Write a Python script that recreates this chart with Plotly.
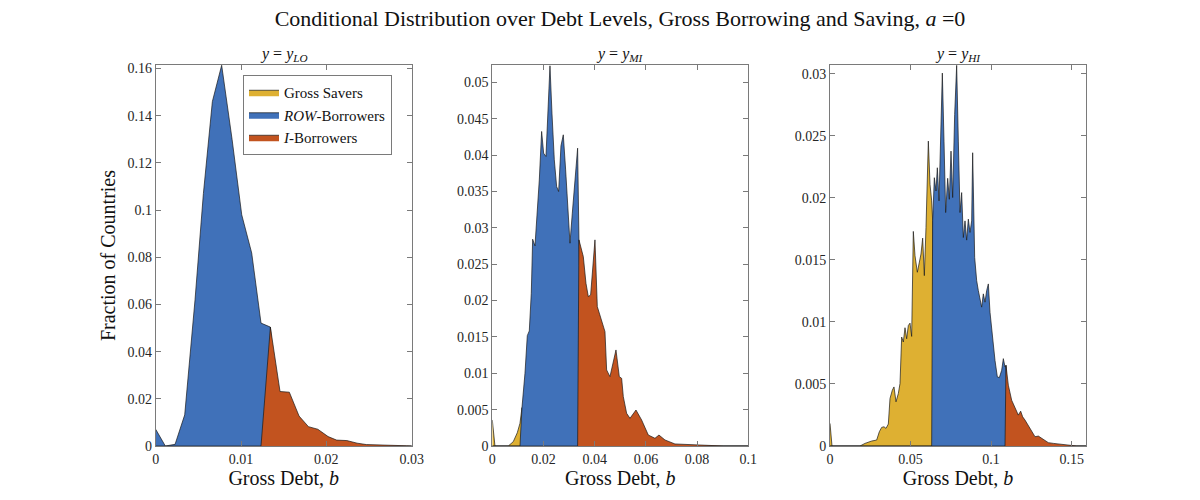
import plotly.graph_objects as go

# ---------------- data ----------------
# y = y_LO panel
b_lo = [0.0, 0.00113, 0.00227, 0.0034, 0.00461, 0.00559, 0.00664, 0.00773,
        0.00895, 0.01008, 0.01125, 0.01234, 0.01344, 0.01457, 0.01566, 0.0168,
        0.0179, 0.0190, 0.0202, 0.0212, 0.0224, 0.0236, 0.0247, 0.0259,
        0.0271, 0.0282, 0.0294, 0.0306]
d_lo = [0.0071, 0.0, 0.0007, 0.0132, 0.062, 0.107, 0.146, 0.1614,
        0.130, 0.098, 0.0818, 0.0521, 0.0504, 0.0231, 0.0228, 0.0127,
        0.0082, 0.0071, 0.0040, 0.0025, 0.0023, 0.0012, 0.0006, 0.0004,
        0.0004, 0.0003, 0.0001, 0.0]
save_cut_lo = None        # no gross savers
iborr_cut_lo = 0.01344    # first b of I-borrowers

# y = y_MI panel
b_mi = [0.0, 0.00104, 0.00625, 0.0082, 0.00977, 0.01081, 0.01159, 0.01276,
        0.01367, 0.01445, 0.01523, 0.01576, 0.01667, 0.01758, 0.01836, 0.01927,
        0.02005, 0.02096, 0.02174, 0.02253, 0.02331, 0.02422, 0.02513, 0.02591,
        0.02682, 0.02773, 0.02865, 0.02956, 0.03034, 0.03125, 0.03216, 0.03333,
        0.03385, 0.03555, 0.03659, 0.0375, 0.03841, 0.03919, 0.0401, 0.04102,
        0.04271, 0.04401, 0.04466, 0.04596, 0.04831, 0.04961, 0.05052, 0.05117,
        0.05247, 0.05378, 0.05612, 0.05833, 0.06094, 0.06354, 0.0651, 0.06745,
        0.07135, 0.07591, 0.08047, 0.08503, 0.09023, 0.1]
d_mi = [0.00358, 0.0, 0.0, 0.0006, 0.00183, 0.00312, 0.00528, 0.0100,
        0.01518, 0.01583, 0.02101, 0.02844, 0.02752, 0.03248, 0.0366, 0.04326,
        0.04027, 0.03982, 0.04578, 0.05229, 0.04578, 0.03936, 0.03569, 0.0350,
        0.04128, 0.0428, 0.03798, 0.03293, 0.02789, 0.03202, 0.03615, 0.04096,
        0.02835, 0.02605, 0.02238, 0.02055, 0.02078, 0.02376, 0.02835, 0.01917,
        0.01734, 0.01573, 0.01046, 0.00954, 0.01321, 0.00954, 0.00931, 0.00679,
        0.0045, 0.00381, 0.00495, 0.00358, 0.00151, 0.00106, 0.00151, 0.00083,
        0.00028, 0.00023, 0.00014, 0.00005, 0.0, 0.0]
save_cut_mi = 0.01159
iborr_cut_mi = 0.03385

# y = y_HI panel
b_hi = [0.0, 0.00124, 0.01862, 0.02172, 0.02586, 0.02897, 0.03062, 0.03207,
        0.03352, 0.03476, 0.03621, 0.03724, 0.03869, 0.03972, 0.04097, 0.04241,
        0.04345, 0.04448, 0.04552, 0.04655, 0.04759, 0.04862, 0.04966, 0.05069,
        0.05172, 0.05276, 0.05421, 0.05545, 0.05648, 0.05752, 0.05855, 0.05959,
        0.06104, 0.06207, 0.0631, 0.06373,
        0.06476, 0.0658, 0.06662, 0.06766, 0.06869, 0.06973, 0.07076, 0.07179,
        0.07304, 0.07407, 0.07511, 0.07614, 0.07738, 0.07862, 0.07966, 0.08069,
        0.08173, 0.08276, 0.0838, 0.08483, 0.08586, 0.0869, 0.08793, 0.08855,
        0.0898, 0.09104, 0.09207, 0.0931, 0.09414, 0.09517, 0.09621, 0.09724,
        0.09828, 0.09931, 0.10097, 0.10241, 0.10386, 0.10511, 0.10655, 0.10759,
        0.10862, 0.10924,
        0.11069, 0.11276, 0.11483, 0.1169, 0.11835, 0.11959, 0.12104, 0.12311,
        0.12518, 0.12725, 0.12932, 0.13138, 0.13345, 0.13552, 0.13862, 0.14173,
        0.14483, 0.14897, 0.15311, 0.1589]
d_hi = [0.00182, 0.0, 0.0, 0.00021, 0.0004, 0.00048, 0.00115, 0.0015,
        0.00155, 0.00142, 0.00177, 0.00383, 0.0045, 0.00476, 0.00356, 0.00423,
        0.00503, 0.00878, 0.00838, 0.00953, 0.00864, 0.00971, 0.0099, 0.00883,
        0.01729, 0.01533, 0.0140, 0.01493, 0.01547, 0.01675, 0.01373, 0.01761,
        0.02457, 0.02109, 0.01975, 0.01814,
        0.02162, 0.02055, 0.02242, 0.01975, 0.02457, 0.03005, 0.02457, 0.01881,
        0.02157, 0.01988, 0.02376, 0.02002, 0.02671, 0.03067, 0.02457, 0.01881,
        0.02042, 0.0168, 0.01814, 0.01659, 0.01828, 0.01721, 0.01814, 0.02363,
        0.0152, 0.01333, 0.01252, 0.01172, 0.01119, 0.01226, 0.01159, 0.01252,
        0.01306, 0.01078, 0.00851, 0.0069, 0.00557, 0.00551, 0.0061, 0.00704,
        0.00637, 0.0065,
        0.0049, 0.00369, 0.00302, 0.00249, 0.00281, 0.00235, 0.00209, 0.00161,
        0.00115, 0.00075, 0.0008, 0.00062, 0.00048, 0.00027, 0.00021, 0.00016,
        0.00008, 0.00005, 0.0, 0.0]
save_cut_hi = 0.06373
iborr_cut_hi = 0.10924

panel_titles = ["<i>y</i> = <i>y<sub>LO</sub></i>",
                "<i>y</i> = <i>y<sub>MI</sub></i>",
                "<i>y</i> = <i>y<sub>HI</sub></i>"]
group_names = ["Gross Savers", "<i>ROW</i>-Borrowers", "<i>I</i>-Borrowers"]

x_ranges = [[0, 0.03], [0, 0.1], [0, 0.1589]]
y_ranges = [[0, 0.1615], [0, 0.0524], [0, 0.0307]]
x_tickvals = [[0, 0.01, 0.02, 0.03], [0, 0.02, 0.04, 0.06, 0.08, 0.1], [0, 0.05, 0.1, 0.15]]
x_ticktext = [["0", "0.01", "0.02", "0.03"], ["0", "0.02", "0.04", "0.06", "0.08", "0.1"],
              ["0", "0.05", "0.1", "0.15"]]
y_tickvals = [[0, 0.02, 0.04, 0.06, 0.08, 0.1, 0.12, 0.14, 0.16],
              [0, 0.005, 0.01, 0.015, 0.02, 0.025, 0.03, 0.035, 0.04, 0.045, 0.05],
              [0, 0.005, 0.01, 0.015, 0.02, 0.025, 0.03]]
y_ticktext = [["0", "0.02", "0.04", "0.06", "0.08", "0.1", "0.12", "0.14", "0.16"],
              ["0", "0.005", "0.01", "0.015", "0.02", "0.025", "0.03", "0.035", "0.04", "0.045", "0.05"],
              ["0", "0.005", "0.01", "0.015", "0.02", "0.025", "0.03"]]

# ---------------- styling / layout ----------------
COLORS = ["#DEB032", "#4071B9", "#C2531F"]
FONT = "Liberation Serif"
AX_COLOR = "#7a7a7a"
TXT = "#262626"

W, H = 1200, 500
ML, MR, MT, MB = 40, 40, 40, 40
PW, PH = W - ML - MR, H - MT - MB


def fx(px):   # pixel x -> paper fraction
    return (px - ML) / PW


def fy(py):   # pixel y (from top) -> paper fraction
    return (H - MB - py) / PH


panel_px = [(155.7, 411.7), (492.3, 748.3), (830.0, 1086.0)]
x_domains = [[fx(a), fx(b)] for a, b in panel_px]
y_domain = [fy(446.0), fy(65.0)]

panels = [(b_lo, d_lo, save_cut_lo, iborr_cut_lo),
          (b_mi, d_mi, save_cut_mi, iborr_cut_mi),
          (b_hi, d_hi, save_cut_hi, iborr_cut_hi)]

fig = go.Figure()
legend_done = set()

for p, (b, d, s_cut, i_cut) in enumerate(panels):
    xa = "x" if p == 0 else f"x{p+1}"
    ya = "y" if p == 0 else f"y{p+1}"
    lo_blue = s_cut if s_cut is not None else -1.0
    masks = [[(s_cut is not None and x <= s_cut) for x in b],
             [(lo_blue <= x <= i_cut) for x in b],
             [(x >= i_cut) for x in b]]
    for g in range(3):
        if not any(masks[g]):
            continue
        yy = [v if m else 0.0 for v, m in zip(d, masks[g])]
        show = g not in legend_done
        legend_done.add(g)
        fig.add_trace(go.Scatter(
            x=b, y=yy, mode="lines", fill="tozeroy",
            fillcolor=COLORS[g], line=dict(color="#1a1a1a", width=0.7),
            name=group_names[g], legendgroup=f"g{g}", legendrank=g + 1,
            showlegend=show, xaxis=xa, yaxis=ya, hoverinfo="x+y+name"))

layout = dict(
    width=W, height=H,
    margin=dict(l=ML, r=MR, t=MT, b=MB, autoexpand=False),
    paper_bgcolor="white", plot_bgcolor="white",
    font=dict(family=FONT, color=TXT, size=14),
    title=dict(text="Conditional Distribution over Debt Levels, Gross Borrowing and Saving, <i>a</i> =0",
               x=620 / W, xanchor="center", y=1 - 18 / H, yanchor="middle",
               font=dict(family=FONT, size=22, color="#111111")),
    legend=dict(x=fx(243), y=fy(75), xanchor="left", yanchor="top",
                bgcolor="white", bordercolor=AX_COLOR, borderwidth=1,
                font=dict(family=FONT, size=15, color="#111111"),
                tracegroupgap=0, itemwidth=30),
    showlegend=True,
)

for p in range(3):
    xk = "xaxis" if p == 0 else f"xaxis{p+1}"
    yk = "yaxis" if p == 0 else f"yaxis{p+1}"
    layout[xk] = dict(domain=x_domains[p], range=x_ranges[p], anchor="y" if p == 0 else f"y{p+1}",
                      tickvals=x_tickvals[p], ticktext=x_ticktext[p], automargin=False,
                      showline=True, linecolor=AX_COLOR, linewidth=1, mirror="ticks",
                      ticks="inside", ticklen=5, tickcolor=AX_COLOR, showgrid=False, zeroline=False,
                      tickfont=dict(family=FONT, size=14, color=TXT),
                      title=dict(text="Gross Debt, <i>b</i>", standoff=3,
                                 font=dict(family=FONT, size=20, color="#111111")))
    layout[yk] = dict(domain=y_domain, range=y_ranges[p], anchor="x" if p == 0 else f"x{p+1}",
                      tickvals=y_tickvals[p], ticktext=y_ticktext[p], automargin=False,
                      showline=True, linecolor=AX_COLOR, linewidth=1, mirror="ticks",
                      ticks="inside", ticklen=5, tickcolor=AX_COLOR, showgrid=False, zeroline=False,
                      tickfont=dict(family=FONT, size=14, color=TXT))
layout["yaxis"]["title"] = dict(text="Fraction of Countries", standoff=6,
                                font=dict(family=FONT, size=20, color="#111111"))

centers = [(a + b) / 2 for a, b in panel_px]
layout["annotations"] = [dict(text=panel_titles[p], x=fx(centers[p]), y=fy(54), xref="paper", yref="paper",
                              xanchor="center", yanchor="middle", showarrow=False,
                              font=dict(family=FONT, size=16, color="#111111"))
                         for p in range(3)]

fig.update_layout(**layout)
# remove the browser's default 8px page margin so the figure sits at the window origin
fig.write_html("out.html", config={"displayModeBar": False},
               post_script="document.body.style.margin='0';")
